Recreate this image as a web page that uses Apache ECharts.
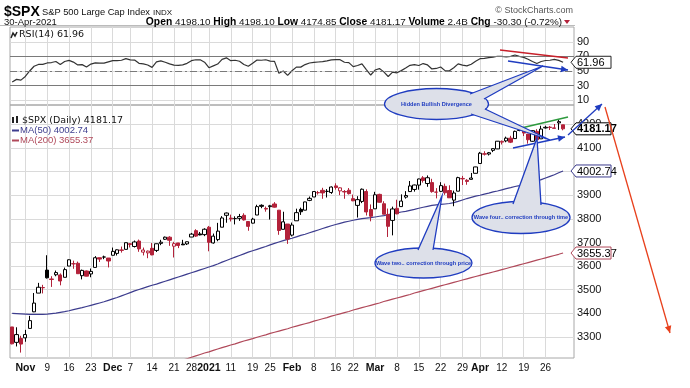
<!DOCTYPE html>
<html><head><meta charset="utf-8">
<script src="https://cdn.jsdelivr.net/npm/echarts@6.0.0/dist/echarts.min.js"></script>
<style>html,body{margin:0;padding:0;background:#fff}#c{width:690px;height:388px}</style>
</head><body><div id="c"></div>
<script>
// ---------- DATA ----------
const dates = ['10/28','10/29','10/30',
'11/2','11/3','11/4','11/5','11/6','11/9','11/10','11/11','11/12','11/13','11/16','11/17','11/18','11/19','11/20','11/23','11/24','11/25','11/27','11/30',
'12/1','12/2','12/3','12/4','12/7','12/8','12/9','12/10','12/11','12/14','12/15','12/16','12/17','12/18','12/21','12/22','12/23','12/24','12/28','12/29','12/30','12/31',
'1/4','1/5','1/6','1/7','1/8','1/11','1/12','1/13','1/14','1/15','1/19','1/20','1/21','1/22','1/25','1/26','1/27','1/28','1/29',
'2/1','2/2','2/3','2/4','2/5','2/8','2/9','2/10','2/11','2/12','2/16','2/17','2/18','2/19','2/22','2/23','2/24','2/25','2/26',
'3/1','3/2','3/3','3/4','3/5','3/8','3/9','3/10','3/11','3/12','3/15','3/16','3/17','3/18','3/19','3/22','3/23','3/24','3/25','3/26','3/29','3/30','3/31',
'4/1','4/5','4/6','4/7','4/8','4/9','4/12','4/13','4/14','4/15','4/16','4/19','4/20','4/21','4/22','4/23','4/26','4/27','4/28','4/29','4/30'];
const opens = [3342.48,3277.17,3293.59,
3296.20,3336.25,3406.46,3485.74,3508.34,3583.04,3543.26,3563.22,3562.67,3552.57,3600.16,3610.31,3612.09,3559.41,3579.31,3566.82,3594.52,3635.50,3638.55,3634.18,
3645.87,3653.78,3668.28,3670.94,3694.73,3683.05,3705.98,3659.13,3656.08,3675.27,3666.41,3696.25,3713.65,3722.39,3684.28,3698.08,3693.42,3694.03,3723.03,3750.01,3736.19,3733.27,
3764.61,3698.02,3712.20,3764.71,3815.05,3803.14,3801.62,3802.23,3814.98,3788.73,3781.88,3816.22,3857.46,3844.24,3851.68,3862.96,3836.83,3755.75,3778.05,
3731.17,3791.84,3840.27,3836.66,3878.30,3892.59,3910.49,3920.78,3916.40,3911.65,3939.61,3918.50,3915.86,3921.16,3885.55,3857.07,3873.71,3915.80,3839.66,
3842.51,3903.64,3863.99,3818.53,3793.58,3844.39,3851.93,3891.99,3915.54,3924.52,3942.96,3973.59,3949.57,3953.50,3913.14,3916.48,3937.60,3919.93,3879.34,3917.12,3969.31,3963.34,3967.25,
3992.78,4034.44,4075.57,4074.29,4089.95,4096.11,4124.71,4130.10,4141.58,4139.76,4174.14,4179.80,4159.18,4128.42,4170.46,4138.78,4185.03,4188.25,4185.14,4206.14,4198.10];
const highs = [3342.48,3341.05,3304.93,
3330.14,3389.49,3486.25,3529.05,3520.76,3645.99,3557.22,3581.16,3569.02,3593.66,3628.51,3623.11,3619.09,3585.22,3581.23,3589.81,3642.31,3635.50,3644.31,3634.18,
3678.45,3670.96,3682.73,3699.20,3697.41,3708.45,3712.39,3678.49,3665.91,3697.61,3695.29,3711.27,3725.12,3726.70,3702.90,3698.26,3711.24,3703.82,3740.51,3756.12,3744.63,3760.20,
3769.99,3737.83,3783.04,3811.55,3826.69,3817.86,3810.78,3820.96,3823.60,3788.73,3804.53,3859.75,3861.45,3852.31,3859.23,3870.90,3836.83,3830.17,3778.05,
3784.32,3843.09,3847.51,3872.42,3894.56,3915.77,3918.35,3931.50,3925.99,3937.23,3950.43,3933.61,3921.98,3930.41,3902.92,3895.98,3928.65,3925.02,3861.08,
3914.50,3906.41,3874.47,3843.67,3851.69,3881.06,3903.76,3917.35,3960.27,3944.99,3970.08,3981.04,3983.87,3969.62,3930.12,3955.31,3949.13,3942.08,3919.54,3978.19,3981.83,3968.01,3994.41,
4020.63,4083.42,4086.23,4083.13,4098.19,4129.48,4131.76,4148.00,4151.69,4173.49,4191.31,4180.81,4159.18,4175.02,4179.57,4194.17,4194.19,4193.35,4201.53,4218.78,4198.10];
const lows = [3268.89,3259.82,3233.94,
3279.74,3336.25,3405.17,3485.74,3484.34,3547.48,3511.91,3557.00,3518.58,3552.57,3600.16,3588.68,3567.33,3543.84,3556.85,3552.77,3594.52,3617.76,3629.33,3594.39,
3645.87,3644.84,3657.17,3670.94,3678.88,3678.83,3660.54,3645.18,3633.40,3645.84,3659.62,3688.57,3710.87,3685.84,3636.48,3676.16,3689.28,3689.32,3723.03,3723.31,3730.21,3726.88,
3662.71,3695.07,3705.34,3764.71,3783.60,3789.02,3776.51,3791.50,3792.86,3749.62,3780.37,3816.22,3845.05,3830.41,3797.16,3847.78,3732.48,3755.75,3694.12,
3725.62,3791.84,3816.68,3836.66,3874.93,3892.59,3902.64,3884.94,3890.39,3905.78,3923.85,3900.43,3885.03,3903.07,3874.71,3805.59,3866.68,3814.04,3789.54,
3842.51,3868.57,3818.86,3723.34,3730.19,3819.25,3851.93,3885.73,3915.54,3915.21,3923.54,3953.44,3935.74,3910.86,3886.75,3914.16,3901.78,3889.07,3853.50,3917.12,3943.25,3944.35,3966.98,
3992.78,4034.44,4068.14,4068.31,4082.54,4095.51,4114.82,4124.43,4120.87,4139.76,4170.75,4150.47,4118.38,4126.35,4123.69,4138.78,4182.36,4176.22,4181.78,4176.81,4174.85];
const closes = [3271.03,3310.11,3269.96,
3310.24,3369.16,3443.44,3510.45,3509.44,3550.50,3545.53,3572.66,3537.01,3585.15,3626.91,3609.53,3567.79,3581.87,3557.54,3577.59,3635.41,3629.65,3638.35,3621.63,
3662.45,3669.01,3666.72,3699.12,3691.96,3702.25,3672.82,3668.10,3663.46,3647.49,3694.62,3701.17,3722.48,3709.41,3694.92,3687.26,3690.01,3703.06,3735.36,3727.04,3732.04,3756.07,
3700.65,3726.86,3748.14,3803.79,3824.68,3799.61,3801.19,3809.84,3795.54,3768.25,3798.91,3851.85,3853.07,3841.47,3855.36,3849.62,3750.77,3787.38,3714.24,
3773.86,3826.31,3830.17,3871.74,3886.83,3915.59,3911.23,3909.88,3916.38,3934.83,3932.59,3931.33,3913.97,3906.71,3876.50,3881.37,3925.43,3829.34,3811.15,
3901.82,3870.29,3819.72,3768.47,3841.94,3821.35,3875.44,3898.81,3939.34,3943.34,3968.94,3962.71,3974.12,3915.46,3913.10,3940.59,3910.52,3889.14,3909.52,3974.54,3971.09,3958.55,3972.89,
4019.87,4077.91,4073.94,4079.95,4097.17,4128.80,4127.99,4141.59,4124.66,4170.42,4185.47,4163.26,4134.94,4173.42,4134.98,4180.17,4187.62,4186.72,4183.18,4211.47,4181.17];
const closeBefore = 3390.68;
const ma50 = [3400,3399,3398,3397,3396,3396,3396,3396,3397,3399,3401,
3404,3407,3411,3416,3420,3424,3429,3434,3439,3444,
3449,3455,3461,3467,3474,3481,3488,3495,3501,3507,
3513,3519,3524,3530,3536,3542,3548,3554,3560,3566,
3572,3578,3584,3590,3596,3602,3609,3617,3624,3631,
3638,3645,3652,3659,3665,3671,3677,3683,3690,3696,
3702,3708,3713,3718,3724,3730,3735,3741,3747,3753,
3759,3765,3771,3776,3781,3786,3790,3794,3798,3801,
3803,3805,3808,3811,3814,3818,3822,3825,3829,3832,
3836,3840,3845,3849,3853,3857,3859,3861,3863,3865,
3869,3874,3880,3886,3891,3896,3900,3905,3909,3914,
3918,3923,3928,3932,3937,3941,3946,3951,3956,3961,
3966,3973,3980,3987,3995,4002.74];
const ma200 = [null,null,null,null,null,null,null,null,null,null,
null,null,null,null,null,null,null,null,null,null,
null,null,null,null,null,null,null,null,null,null,
3150,3156,3161,3167,3173,3179,3185,3190,3196,3202,
3208,3214,3220,3226,3232,3237,3243,3249,3255,3260,
3266,3271,3277,3283,3288,3293,3299,3304,3309,3315,
3320,3325,3330,3335,3341,3346,3351,3356,3361,3367,
3372,3377,3382,3388,3393,3398,3403,3408,3414,3419,
3424,3429,3434,3439,3444,3450,3455,3460,3465,3470,
3475,3480,3486,3491,3496,3501,3506,3511,3516,3521,
3526,3531,3536,3541,3546,3551,3556,3561,3566,3570,
3575,3580,3585,3590,3595,3600,3605,3610,3615,3620,
3625,3630,3635,3640,3645,3650,3655.37];
const rsi14 = [35,38.5,37.5,42.5,50,56.5,59,59,61,61.6,
63,59,63,64.5,62.2,58.3,58.7,55.5,59.5,61.2,
60.8,60.7,62.5,64.2,64.3,64.7,67,65.2,65,60.5,
59.8,58.2,55,62.4,63.8,62,59.8,58,57.8,58.4,
60.5,64.2,65.4,65.3,62,54.5,57,59.5,66,68,
64.2,64.7,63.4,59,56.5,60.5,65,64.7,65.4,63.5,
63.2,47,50,44,50.3,55.3,55.3,58.8,61,61.8,
62.3,62.8,63.9,65.2,65.5,65.5,62,61.5,56,57.5,
59.8,52,44.5,51.3,53.3,48.8,42.5,48.5,47.5,50.5,
54,57.8,58.8,57.5,60.2,58.3,52.8,53.5,55.5,50.5,
50.3,54.5,59.8,58.1,57,59.3,63.5,66.9,67.2,68.3,
69.1,70.2,70.1,69.2,70,71.9,70,68.6,66.1,63,
60.2,63,64.4,64.7,65.9,64.5,61.96];
const tickDates = ['11/2','11/9','11/16','11/23','12/1','12/7','12/14','12/21','12/28','1/4','1/11','1/19','1/25','2/1','2/8','2/16','2/22','3/1','3/8','3/15','3/22','3/29','4/5','4/12','4/19','4/26'];
const tickTexts = ['Nov','9','16','23','Dec','7','14','21','28','2021','11','19','25','Feb','8','16','22','Mar','8','15','22','29','Apr','12','19','26'];
const priceTicks = [3300,3400,3500,3600,3700,3800,3900,4000,4100,4200];
const rsiTicks = [10,30,50,70,90];

// ---------- STYLE ----------
const RED = '#b3223a', GRID = '#dadada', FONT = 'Liberation Sans, Arial, sans-serif';
const MA50C = '#3d3d8e', MA200C = '#b0495a';
const cats = dates.concat(['', '']);
const tickMap = {}; tickDates.forEach((d, i) => tickMap[d] = tickTexts[i]);
const isMonth = t => isNaN(Number(t)) || t === '2021';

const candleData = opens.map((o, i) => {
  const c = closes[i], pc = i ? closes[i - 1] : closeBefore;
  const col = c < pc ? RED : '#000';
  const fill = c >= o ? '#fff' : col;
  return { value: [o, c, lows[i], highs[i]],
    itemStyle: { color: fill, color0: fill, borderColor: col, borderColor0: col } };
});

function xAx(gi, labels) {
  return { type: 'category', gridIndex: gi, data: cats, boundaryGap: true,
    axisLine: { show: false }, axisTick: { show: false },
    axisLabel: labels ? { show: true, interval: (i, v) => tickMap[v] !== undefined, margin: 5,
      color: '#111', fontSize: 10, fontFamily: FONT,
      formatter: v => isMonth(tickMap[v]) ? '{b|' + tickMap[v] + '}' : tickMap[v],
      rich: { b: { fontWeight: 'bold', fontSize: 10.5, fontFamily: FONT, color: '#111' } } } : { show: false },
    splitLine: { show: true, interval: (i, v) => tickMap[v] !== undefined, alignWithLabel: true,
      lineStyle: { color: GRID, width: 1 } } };
}
function yAx(gi, min, max, ticks) {
  return { type: 'value', gridIndex: gi, position: 'right', min, max, scale: true,
    axisLine: { show: false },
    axisTick: { show: false, customValues: ticks },
    axisLabel: { show: true, customValues: ticks, margin: 3, color: '#111', fontSize: 11, fontFamily: FONT,
      formatter: v => String(v) },
    splitLine: { show: true, lineStyle: { color: GRID, width: 1 } } };
}

const chart = echarts.init(document.getElementById('c'), null, { renderer: 'canvas' });
const option = {
  animation: false,
  backgroundColor: '#fff',
  grid: [
    { left: 10, top: 27, width: 564, height: 78, show: true, borderColor: '#a8a8a8', borderWidth: 1, containLabel: false, outerBoundsMode: 'none' },
    { left: 10, top: 105, width: 564, height: 253, show: true, borderColor: '#a8a8a8', borderWidth: 1, containLabel: false, outerBoundsMode: 'none' }
  ],
  xAxis: [xAx(0, false), xAx(1, true)],
  yAxis: [yAx(0, 3.4, 110.3, rsiTicks), yAx(1, 3211, 4282, priceTicks)],
  series: [
    { type: 'line', name: 'RSI(14)', xAxisIndex: 0, yAxisIndex: 0, data: rsi14, symbol: 'none',
      lineStyle: { color: '#333', width: 1.2 }, z: 3,
      markLine: { silent: true, symbol: 'none', label: { show: false }, animation: false,
        data: [
          { yAxis: 70, lineStyle: { color: '#7a7a7a', type: 'solid', width: 1 } },
          { yAxis: 30, lineStyle: { color: '#7a7a7a', type: 'solid', width: 1 } },
          { yAxis: 50, lineStyle: { color: '#7a7a7a', type: [7, 3, 2, 3], width: 1 } }
        ] } },
    { type: 'line', name: 'MA(200)', xAxisIndex: 1, yAxisIndex: 1, data: ma200, symbol: 'none',
      lineStyle: { color: MA200C, width: 1.2 }, z: 2 },
    { type: 'line', name: 'MA(50)', xAxisIndex: 1, yAxisIndex: 1, data: ma50, symbol: 'none',
      lineStyle: { color: MA50C, width: 1.2 }, z: 2 },
    { type: 'candlestick', name: '$SPX', xAxisIndex: 1, yAxisIndex: 1, data: candleData,
      barWidth: 3.8, itemStyle: { borderWidth: 1 }, z: 3 }
  ]
};
chart.setOption(option);

// ---------- overlay text & hand-drawn annotations ----------
const BLUE = '#1f3cc0', EFILL = '#dde0e9';
const g = [];
function txt(x, y, text, font, fill, align, z) {
  g.push({ type: 'text', x, y, z: z || 50,
    style: { text, font, fill: fill || '#000', align: align || 'left', verticalAlign: 'middle' } });
}
function line(pts, color, w, z) {
  g.push({ type: 'polyline', z: z || 60, shape: { points: pts }, style: { stroke: color, lineWidth: w || 1.3, fill: null } });
}
function arrow(x1, y1, x2, y2, color, w) {
  line([[x1, y1], [x2, y2]], color, w, 70);
  const a = Math.atan2(y2 - y1, x2 - x1), L = 7, H = 3.3;
  const bx = x2 - L * Math.cos(a), by = y2 - L * Math.sin(a);
  g.push({ type: 'polygon', z: 70, shape: { points: [[x2, y2], [bx + H * Math.sin(a), by - H * Math.cos(a)], [bx - H * Math.sin(a), by + H * Math.cos(a)]] },
    style: { fill: color } });
}
function callout(cx, cy, rx, ry, label, tails) {
  g.push({ type: 'ellipse', z: 80, shape: { cx, cy, rx, ry }, style: { fill: EFILL, stroke: BLUE, lineWidth: 1.3 } });
  tails.forEach(t => {
    g.push({ type: 'polygon', z: 81, shape: { points: t }, style: { fill: EFILL } });
    g.push({ type: 'polyline', z: 81, shape: { points: t }, style: { stroke: BLUE, lineWidth: 1.3, fill: null } });
  });
  g.push({ type: 'text', x: cx, y: cy, z: 82, style: { text: label, font: 'bold 5.6px ' + FONT, fill: BLUE, align: 'center', verticalAlign: 'middle' } });
}

// header
txt(4, 12, '$SPX', 'bold 14px ' + FONT, '#000');
txt(42, 12.5, 'S&P 500 Large Cap Index', '9.3px ' + FONT, '#111');
txt(153, 13, 'INDX', '8px ' + FONT, '#111');
txt(573, 11, '© StockCharts.com', '9px ' + FONT, '#555', 'right');
txt(4, 22, '30-Apr-2021', '9.5px ' + FONT, '#111');
g.push({ type: 'text', x: 562, y: 22, z: 50, style: {
  text: '{b|Open} 4198.10 {b|High} 4198.10 {b|Low} 4174.85 {b|Close} 4181.17 {b|Volume} 2.4B {b|Chg} -30.30 (-0.72%)',
  font: '9.9px ' + FONT, fill: '#111', align: 'right', verticalAlign: 'middle',
  rich: { b: { fontWeight: 'bold', fontSize: 10.3, fontFamily: FONT, fill: '#000' } } } });
g.push({ type: 'polygon', z: 50, shape: { points: [[564, 20], [570, 20], [567, 24]] }, style: { fill: RED } });
g.push({ type: 'line', z: 40, shape: { x1: 0, y1: 25.5, x2: 575, y2: 25.5 }, style: { stroke: '#bbb', lineWidth: 1 } });

// panel legends
g.push({ type: 'polyline', z: 50, shape: { points: [[11, 38], [13, 33], [15, 36], [17, 32]] }, style: { stroke: '#222', lineWidth: 1.5, fill: null } });
txt(19, 35, 'RSI(14) 61.96', '9.5px DejaVu Sans, sans-serif', '#111');
g.push({ type: 'rect', z: 50, shape: { x: 12, y: 117, width: 2, height: 6 }, style: { fill: '#222' } });
g.push({ type: 'rect', z: 50, shape: { x: 16, y: 116, width: 2, height: 7 }, style: { fill: '#222' } });
txt(22, 120.5, '$SPX (Daily) 4181.17', '9.5px DejaVu Sans, sans-serif', '#111');
g.push({ type: 'line', z: 50, shape: { x1: 12, y1: 130.5, x2: 19, y2: 130.5 }, style: { stroke: MA50C, lineWidth: 2 } });
txt(20, 130.5, 'MA(50) 4002.74', '9.5px ' + FONT, MA50C);
g.push({ type: 'line', z: 50, shape: { x1: 12, y1: 140.5, x2: 19, y2: 140.5 }, style: { stroke: MA200C, lineWidth: 2 } });
txt(20, 140.5, 'MA(200) 3655.37', '9.5px ' + FONT, MA200C);

// value flags on right axis (positions from the axes)
function flag(gi, value, text, border, bold) {
  const y = chart.convertToPixel({ gridIndex: gi }, [0, value])[1];
  const x0 = 571, x1 = 611;
  g.push({ type: 'polygon', z: 55, shape: { points: [[x0, y], [x0 + 5, y - 6], [x1, y - 6], [x1, y + 6], [x0 + 5, y + 6]] },
    style: { fill: '#fff', stroke: border, lineWidth: 1 } });
  txt(x0 + 6, y + 0.5, text, (bold ? 'bold ' : '') + '11px ' + FONT, '#000', 'left', 56);
}
flag(0, rsi14[rsi14.length - 1], '61.96', '#222', false);
flag(1, closes[closes.length - 1], '4181.17', '#000', true);
flag(1, ma50[ma50.length - 1], '4002.74', MA50C, false);
flag(1, ma200[ma200.length - 1], '3655.37', MA200C, false);

// hand-drawn annotations
line([[500, 50], [568, 58]], '#c8202a', 1.6, 65);
arrow(508, 61, 568, 70, BLUE, 1.3);
line([[517, 129], [568, 117]], '#2e9a3e', 1.6, 65);
arrow(513, 148, 565, 137, BLUE, 1.3);
arrow(568, 135, 602, 104, BLUE, 1.3);
arrow(605, 107, 670, 333, '#e8401c', 1.3);
callout(436.5, 104, 52, 15.5, 'Hidden Bullish Divergence',
  [[[470, 94], [543, 66], [484, 99]], [[471, 114], [550, 140], [485, 109]]]);
callout(521, 217.5, 49, 16, 'Wave four.. correction through time', [[[513, 204], [537, 138], [541, 205]]]);
callout(423.5, 263, 48.5, 15, 'Wave two.. correction through price', [[[418, 250], [442, 196], [433, 250]]]);

chart.setOption({ graphic: g });
</script></body></html>
